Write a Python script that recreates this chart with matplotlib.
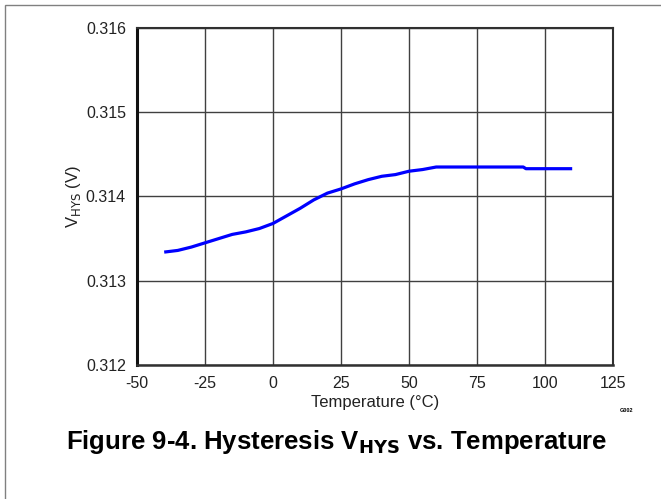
import matplotlib
matplotlib.use('Agg')
import matplotlib.pyplot as plt
from matplotlib.patches import Rectangle

plt.rcParams['font.family'] = ['Liberation Sans', 'DejaVu Sans']
plt.rcParams['axes.unicode_minus'] = False

# data
temp = [-40, -35, -30, -25, -20, -15, -10, -5, 0, 5, 10, 15, 20, 25, 30, 35, 40, 45, 50, 55, 60, 70, 80, 92, 93, 100, 110]
vhys = [0.31334, 0.31336, 0.31340, 0.31345, 0.31350, 0.31355, 0.31358, 0.31362, 0.31368, 0.31377, 0.31386,
        0.31396, 0.31404, 0.31409, 0.31415, 0.31420, 0.31424, 0.31426, 0.31430, 0.31432, 0.31435, 0.31435,
        0.31435, 0.31435, 0.31433, 0.31433, 0.31433]

x_ticks = [-50, -25, 0, 25, 50, 75, 100, 125]
y_ticks = [0.312, 0.313, 0.314, 0.315, 0.316]

fig = plt.figure(figsize=(6.61, 4.99), dpi=100)
ax = fig.add_axes([137 / 661, 1 - 365 / 499, 476 / 661, 337 / 499])

ax.plot(temp, vhys, color='#0000ff', lw=2.3, solid_capstyle='butt')

ax.set_xlim(-50, 125)
ax.set_ylim(0.312, 0.316)
ax.set_xticks(x_ticks)
ax.set_yticks(y_ticks)
ax.set_yticklabels(['%.3f' % v for v in y_ticks])
ax.grid(True, color='#404040', lw=1.0)
ax.tick_params(length=0, labelsize=11.5, pad=8, colors='#222222')

for s in ax.spines.values():
    s.set_color('#303030')
    s.set_linewidth(1.5)
ax.spines['left'].set_linewidth(2.2)
ax.spines['left'].set_color('#111111')
ax.spines['bottom'].set_linewidth(1.8)

ax.set_xlabel('Temperature (°C)', fontsize=12, labelpad=3, color='#222222')
ax.set_ylabel(r'V$_{\mathrm{HYS}}$ (V)', fontsize=12, labelpad=2, color='#222222')

fig.text(626 / 661, 1 - 410 / 499, 'G002', fontsize=4, fontweight='bold',
         ha='center', va='center')

fig.text(0.5 * (61 + 613) / 661, 1 - 442 / 499,
         r'Figure 9-4. Hysteresis V$_{\mathbf{HYS}}$ vs. Temperature',
         fontsize=18.5, fontweight='bold', ha='center', va='center')

# outer frame of the original figure box
fig.patches.append(Rectangle((5 / 661, -0.1), 1.2, 1 - 5 / 499 + 0.1,
                             transform=fig.transFigure, fill=False,
                             edgecolor='#808080', lw=1.0))

fig.savefig('out.png', dpi=100)
